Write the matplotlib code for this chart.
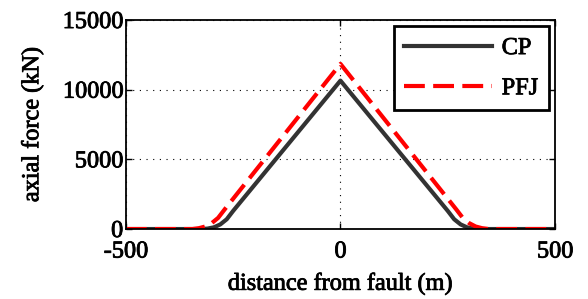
import matplotlib
matplotlib.use("Agg")
import matplotlib.pyplot as plt
import matplotlib.patheffects as pe

cp_x = [-500, -330, -310, -295, -280, -265, -250, 0, 250, 265, 280, 295, 310, 330, 500]
cp_y = [0, 0, 30, 120, 330, 700, 1300, 10650, 1300, 700, 330, 120, 30, 0, 0]

pfj_x = [-500, -345, -330, -315, -300, -285, -270, 0, 270, 285, 300, 315, 330, 345, 500]
pfj_y = [0, 0, 60, 180, 420, 800, 1400, 11850, 1400, 800, 420, 180, 60, 0, 0]

xticks = [-500, 0, 500]
yticks = [0, 5000, 10000, 15000]

plt.rcParams['font.family'] = ['Liberation Serif', 'DejaVu Serif']
plt.rcParams['font.size'] = 17.5
plt.rcParams['axes.unicode_minus'] = False

fig = plt.figure(figsize=(5.88, 2.99), dpi=100)
ax = fig.add_axes([0.214, 0.234, 0.73, 0.699])

ax.plot(cp_x, cp_y, color='#333333', lw=3, label='CP')
ax.plot(pfj_x, pfj_y, color='red', lw=3, ls=(0, (5, 2)), label='PFJ')

ax.set_xlim(-500, 500)
ax.set_ylim(0, 15000)
ax.set_xticks(xticks)
ax.set_yticks(yticks)
ax.tick_params(direction='in', top=True, right=True, length=4, width=1, pad=2)
ax.tick_params(axis='x', pad=9)
ax.grid(True, color='black', ls=(0, (1, 5)), lw=0.8)
for s in ax.spines.values():
    s.set_linewidth(1.3)

ax.set_xlabel('distance from fault (m)', labelpad=8)
ax.set_ylabel('axial force (kN)', labelpad=14)

leg = ax.legend(loc='upper right', bbox_to_anchor=(1.0, 1.0), fancybox=False,
                framealpha=1, edgecolor='black', handlelength=3.6,
                borderpad=0.45, labelspacing=0.75, handletextpad=0.4,
                borderaxespad=0.25)
leg.get_frame().set_linewidth(2)

# thicken the text a little, the original looks heavier
stroke = [pe.withStroke(linewidth=0.6, foreground='black')]
for t in ax.get_xticklabels() + ax.get_yticklabels() + leg.get_texts():
    t.set_path_effects(stroke)
ax.xaxis.label.set_path_effects(stroke)
ax.yaxis.label.set_path_effects(stroke)

fig.savefig('out.png', dpi=100)
